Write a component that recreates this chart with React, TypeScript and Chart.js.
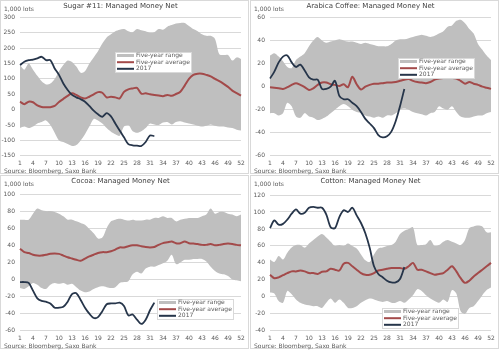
import React, { useEffect, useRef } from 'react';
import { Chart, registerables } from 'chart.js';

Chart.register(...registerables);

const weeks = [1, 2, 3, 4, 5, 6, 7, 8, 9, 10, 11, 12, 13, 14, 15, 16, 17, 18, 19, 20, 21, 22, 23, 24, 25, 26, 27, 28, 29, 30, 31, 32, 33, 34, 35, 36, 37, 38, 39, 40, 41, 42, 43, 44, 45, 46, 47, 48, 49, 50, 51, 52];

const legendLabels = ['Five-year range', 'Five-year average', '2017'];
const unitLabel = '1,000 lots';
const sourceLabel = 'Source: Bloomberg, Saxo Bank';

// Sugar #11
const sugarUpper = [145, 130, 150, 130, 110, 92, 82, 85, 100, 125, 145, 160, 155, 140, 120, 125, 150, 170, 190, 215, 235, 245, 255, 260, 262, 255, 252, 262, 258, 255, 250, 252, 262, 260, 270, 275, 280, 282, 282, 272, 262, 255, 245, 240, 240, 230, 180, 178, 178, 160, 170, 165];
const sugarLower = [-60, -55, -60, -55, -45, -40, -35, -50, -75, -100, -105, -112, -118, -115, -100, -80, -55, -30, -35, -45, -60, -72, -80, -85, -55, -50, -70, -75, -70, -60, -45, -48, -50, -42, -40, -48, -40, -38, -42, -45, -48, -52, -55, -52, -48, -52, -55, -55, -58, -60, -65, -68];
const sugarAvg = [26, 18, 26, 24, 14, 9, 8, 8, 12, 25, 35, 45, 53, 48, 40, 36, 42, 50, 57, 55, 40, 42, 40, 37, 58, 66, 69, 71, 52, 53, 50, 48, 46, 44, 48, 45, 51, 58, 78, 100, 113, 117, 117, 113, 108, 100, 93, 84, 74, 62, 54, 46];
const sugar2017 = [145, 156, 161, 163, 167, 172, 161, 161, 134, 113, 85, 64, 48, 40, 34, 26, 12, -3, -15, -23, -11, -22, -45, -68, -90, -112, -116, -117, -118, -105, -84, -86];

// Arabica coffee
const arabicaUpper = [27, 29, 26, 22, 17, 16, 23, 26, 29, 35, 40, 43, 40, 38, 39, 40, 41, 40, 39, 39, 38, 37, 38, 37, 36, 35, 35, 35, 37, 40, 41, 41, 42, 43, 44, 45, 44, 43, 44, 46, 48, 52, 53, 57, 58, 55, 50, 46, 37, 32, 27, 23];
const arabicaLower = [-23, -23, -25, -23, -14, -17, -26, -27, -23, -26, -27, -29, -28, -26, -23, -20, -17, -15, -17, -20, -22, -23, -25, -26, -27, -26, -27, -25, -25, -23, -20, -19, -20, -22, -23, -24, -25, -23, -22, -17, -19, -20, -17, -22, -26, -27, -27, -26, -25, -25, -23, -22];
const arabicaAvg = [-0.5, -1, -1.5, -2, -0.5, 1.5, 3, 1.5, -0.5, -3, -1.5, 1.5, 3.5, 3.5, 2, 1.5, 0.5, 2, -0.5, 8.5, 2, -2.5, 0, 1.5, 2.5, 2.5, 3, 3.5, 3.5, 4, 5, 6, 6.5, 5, 4, 3.5, 3, 4, 6, 7, 7.5, 7.5, 7.5, 7, 5, 2.5, 4, 2.5, 1.5, 0, -1, -2];
const arabica2017 = [7, 13, 21, 26, 27, 21, 17, 19, 14, 8, 6, 6, -2, -2, 0, 5, -8, -11, -11, -14, -17, -22, -28, -32, -36, -42, -44, -43, -39, -30, -17, -2];

// Cocoa
const cocoaUpper = [70, 70, 70, 77, 83, 81, 80, 80, 79, 77, 74, 70, 70, 68, 66, 64, 59, 54, 48, 49, 60, 68, 70, 71, 70, 69, 70, 69, 69, 70, 70, 72, 72, 74, 72, 72, 68, 70, 71, 72, 72, 72, 74, 76, 83, 77, 79, 79, 77, 76, 74, 76];
const cocoaLower = [-10, -11, -8, -4, -6, -10, -11, -6, -4, -5, -4, -6, -5, -9, -13, -15, -14, -11, -9, -8, -9, -10, -9, -4, -3, -2, 6, 9, 7, 13, 15, 15, 17, 19, 22, 29, 18, 20, 23, 23, 24, 24, 24, 21, 15, 10, 7, 6, 4, 0, -1, -2];
const cocoaAvg = [36, 32, 31, 29, 28, 28, 29, 30, 30.5, 30, 28, 26, 24.5, 23, 22, 24.5, 27, 29, 31, 32, 32, 33, 35, 37.5, 37.5, 39, 40, 40, 39, 38, 37.5, 38, 40.5, 42.5, 43.5, 44.5, 42.5, 42.5, 44.5, 42.5, 42, 41.5, 40.5, 40.5, 41.5, 40, 40.5, 41.5, 42, 41.5, 40.5, 40];
const cocoa2017 = [-3, -3, -4, -13, -22, -25, -26, -28, -33, -33, -32, -26, -17, -16, -24, -33, -40, -45, -44, -37, -29, -28, -28, -27, -31, -42, -41, -47, -52, -47, -36, -27];

// Cotton
const cottonUpper = [44, 41, 48, 44, 52, 58, 61, 61, 58, 63, 67, 71, 74, 70, 65, 60, 61, 60, 63, 60, 57, 50, 43, 41, 50, 57, 58, 60, 61, 65, 74, 78, 80, 82, 61, 61, 62, 67, 60, 61, 65, 67, 65, 63, 61, 67, 81, 83, 84, 83, 76, 76];
const cottonLower = [5, 4, -5, -7, 7, 3, -3, -7, -9, -10, -11, -11, -13, -7, -2, -7, -3, -7, -13, -13, -11, -7, -4, -2, -3, -5, -6, -5, -7, -7, -5, -7, -3, 2, 9, 7, 2, -2, -5, -7, -3, -6, 8, 4, -17, -20, -13, -11, -5, 2, 8, 11];
const cottonAvg = [26, 22, 23, 25.5, 28, 30, 30, 31, 30, 28, 28, 27, 29.5, 30, 33, 32, 31, 39, 40, 36, 32, 28, 26, 26, 28, 31, 32, 33, 34, 34, 34, 33, 36, 40, 32, 32, 30, 28, 26, 27, 28, 32, 36, 30, 22, 16.5, 19, 24, 28, 32, 36, 40];
const cotton2017 = [81, 90, 85, 86, 91, 98, 103, 98, 99, 105, 106, 105, 105, 97, 82, 81, 94, 102, 100, 105, 96, 87, 75, 58, 36, 27, 23, 19, 17, 17, 21, 35];

const RANGE_COLOR = '#bfbfbf';
const AVG_COLOR = '#a34a4a';
const LINE_COLOR = '#26354a';
const TEXT_COLOR = '#595959';
const FONT = 'DejaVu Sans';

type PanelSpec = {
  title: string;
  upper: number[];
  lower: number[];
  avg: number[];
  y2017: number[];
  min: number;
  max: number;
  step: number;
  titleBottom: number;
  legendX: number;
  legendY: number;
};

const panels: PanelSpec[] = [
  { title: 'Sugar #11: Managed Money Net', upper: sugarUpper, lower: sugarLower, avg: sugarAvg, y2017: sugar2017, min: -150, max: 300, step: 50, titleBottom: 7, legendX: 115, legendY: 52 },
  { title: 'Arabica Coffee: Managed Money Net', upper: arabicaUpper, lower: arabicaLower, avg: arabicaAvg, y2017: arabica2017, min: -60, max: 60, step: 20, titleBottom: 7, legendX: 148, legendY: 58 },
  { title: 'Cocoa: Managed Money Net', upper: cocoaUpper, lower: cocoaLower, avg: cocoaAvg, y2017: cocoa2017, min: -60, max: 100, step: 20, titleBottom: 8.6, legendX: 157, legendY: 124 },
  { title: 'Cotton: Managed Money Net', upper: cottonUpper, lower: cottonLower, avg: cottonAvg, y2017: cotton2017, min: -40, max: 120, step: 20, titleBottom: 9.6, legendX: 132, legendY: 133 },
];

const decorPlugin = {
  id: 'panelDecor',
  beforeDraw(chart: any) {
    const { ctx, width, height } = chart;
    ctx.save();
    ctx.fillStyle = '#ffffff';
    ctx.fillRect(0, 0, width, height);
    ctx.strokeStyle = '#d9d9d9';
    ctx.lineWidth = 1;
    ctx.strokeRect(0.5, 0.5, width - 2, height - 2);
    ctx.restore();
  },
  afterDraw(chart: any, _args: any, opts: any) {
    const { ctx } = chart;
    ctx.save();
    ctx.fillStyle = TEXT_COLOR;
    ctx.font = `6px "${FONT}"`;
    ctx.textAlign = 'left';
    ctx.textBaseline = 'middle';
    ctx.fillText(unitLabel, 4, 9);
    ctx.fillText(sourceLabel, 4, 171);

    const lx = opts.x;
    const ly = opts.y;
    const bw = 76;
    const bh = 20;
    ctx.fillStyle = '#ffffff';
    ctx.fillRect(lx, ly, bw, bh);
    ctx.strokeStyle = '#d9d9d9';
    ctx.lineWidth = 1;
    ctx.strokeRect(lx + 0.5, ly + 0.5, bw, bh);
    const rows = [ly + 3.5, ly + 10.2, ly + 16.8];
    // range swatch
    ctx.fillStyle = RANGE_COLOR;
    ctx.fillRect(lx + 2, rows[0] - 1.5, 17, 3);
    ctx.strokeStyle = AVG_COLOR;
    ctx.lineWidth = 2;
    ctx.beginPath();
    ctx.moveTo(lx + 2, rows[1]);
    ctx.lineTo(lx + 19, rows[1]);
    ctx.stroke();
    ctx.strokeStyle = LINE_COLOR;
    ctx.beginPath();
    ctx.moveTo(lx + 2, rows[2]);
    ctx.lineTo(lx + 19, rows[2]);
    ctx.stroke();
    ctx.fillStyle = TEXT_COLOR;
    legendLabels.forEach((t, i) => ctx.fillText(t, lx + 21, rows[i]));
    ctx.restore();
  },
};

function Panel({ spec, left, top }: { spec: PanelSpec; left: number; top: number }) {
  const ref = useRef<HTMLCanvasElement>(null);
  useEffect(() => {
    if (!ref.current) return;
    const chart = new Chart(ref.current, {
      type: 'line',
      data: {
        labels: weeks,
        datasets: [
          { label: legendLabels[0], data: spec.upper, fill: '+1', backgroundColor: RANGE_COLOR, borderColor: 'transparent', borderWidth: 0, pointRadius: 0, tension: 0.3, order: 4 },
          { label: 'lower', data: spec.lower, fill: false, borderColor: 'transparent', borderWidth: 0, pointRadius: 0, tension: 0.3, order: 3 },
          { label: legendLabels[1], data: spec.avg, fill: false, borderColor: AVG_COLOR, borderWidth: 2, pointRadius: 0, tension: 0.3, order: 2 },
          { label: legendLabels[2], data: spec.y2017, fill: false, borderColor: LINE_COLOR, borderWidth: 1.8, pointRadius: 0, tension: 0.3, order: 1 },
        ],
      },
      options: {
        responsive: false,
        animation: false,
        devicePixelRatio: 1,
        layout: { padding: { left: 0, right: 9, top: 0, bottom: 4 } },
        scales: {
          x: {
            type: 'category',
            grid: { display: false, drawTicks: false },
            border: { display: false },
            ticks: {
              autoSkip: false,
              maxRotation: 0,
              padding: 4,
              color: TEXT_COLOR,
              font: { family: FONT, size: 6 },
              callback: (_v: any, i: number) => (i % 3 === 0 ? String(weeks[i]) : null),
            },
          },
          y: {
            min: spec.min,
            max: spec.max,
            afterFit: (scale: any) => { scale.width = 20; },
            grid: { color: '#d9d9d9', drawTicks: false },
            border: { display: false },
            ticks: { stepSize: spec.step, padding: 5, color: TEXT_COLOR, font: { family: FONT, size: 6 } },
          },
        },
        plugins: {
          legend: { display: false },
          tooltip: { enabled: false },
          title: {
            display: true,
            text: spec.title,
            color: '#404040',
            font: { family: FONT, size: 7, weight: 'normal' },
            padding: { top: 2, bottom: spec.titleBottom },
          },
          panelDecor: { x: spec.legendX, y: spec.legendY },
        } as any,
      },
      plugins: [decorPlugin],
    });
    return () => chart.destroy();
  }, [spec]);
  return (
    <div style={{ position: 'absolute', left, top, width: 250, height: 175 }}>
      <canvas ref={ref} width={250} height={175} style={{ display: 'block' }} />
    </div>
  );
}

export default function App() {
  return (
    <div style={{ position: 'fixed', left: 0, top: 0, width: 500, height: 350, background: '#fff' }}>
      <Panel spec={panels[0]} left={0} top={0} />
      <Panel spec={panels[1]} left={250} top={0} />
      <Panel spec={panels[2]} left={0} top={175} />
      <Panel spec={panels[3]} left={250} top={175} />
    </div>
  );
}
